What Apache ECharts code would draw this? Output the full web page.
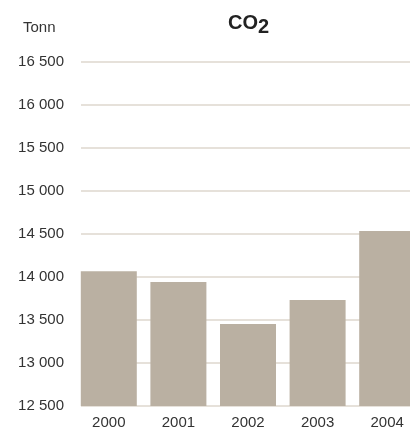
<!DOCTYPE html>
<html>
<head>
<meta charset="utf-8">
<script src="https://cdn.jsdelivr.net/npm/echarts@6/dist/echarts.min.js"></script>
<style>
html,body{margin:0;padding:0;background:#fff;}
#main{width:410px;height:430px;}
</style>
</head>
<body>
<div id="main"></div>
<script>
var years = ['2000', '2001', '2002', '2003', '2004'];
var co2Values = [14067, 13941, 13453, 13734, 14535];
var yMin = 12500, yMax = 16500, yStep = 500;

var chart = echarts.init(document.getElementById('main'));
var font = 'Liberation Sans';
var option = {
	animation: false,
	textStyle: { fontFamily: font },
	title: [
		{
			text: 'Tonn',
			left: 23, top: 20, padding: 0,
			textStyle: { fontSize: 15, fontWeight: 'normal', color: '#333', fontFamily: font }
		},
		{
			text: '{a|CO}{b|2}',
			left: 228, top: 13, padding: 0,
			textStyle: {
				rich: {
					a: { fontSize: 20, fontWeight: 'bold', color: '#222', fontFamily: font, verticalAlign: 'top', lineHeight: 20 },
					b: { fontSize: 20, fontWeight: 'bold', color: '#222', fontFamily: font, padding: [9, 0, 0, 0], lineHeight: 20 }
				}
			}
		}
	],
	// grid 0: gridlines + y labels, grid 1: bars
	grid: [
		{ left: 81, width: 329, top: 62, bottom: 24, outerBoundsMode: 'none' },
		{ left: 74, width: 348, top: 62, bottom: 24, outerBoundsMode: 'none' }
	],
	xAxis: [
		{ gridIndex: 0, type: 'value', show: false, min: 0, max: 1 },
		{
			gridIndex: 1,
			type: 'category',
			data: years,
			axisLine: { show: false },
			axisTick: { show: false },
			axisLabel: { color: '#333', fontSize: 15, margin: 9 }
		}
	],
	yAxis: [
		{
			gridIndex: 0,
			type: 'value',
			min: yMin, max: yMax, interval: yStep,
			axisLine: { show: false },
			axisTick: { show: false },
			splitLine: { lineStyle: { color: '#e6e1da', width: 2 } },
			axisLabel: {
				color: '#333', fontSize: 15, margin: 17,
				formatter: function (v) { return String(v).replace(/\B(?=(\d{3})+(?!\d))/g, ' '); }
			}
		},
		{
			gridIndex: 1,
			type: 'value',
			min: yMin, max: yMax, interval: yStep,
			show: false,
			splitLine: { show: false }
		}
	],
	series: [{
		type: 'bar',
		xAxisIndex: 1,
		yAxisIndex: 1,
		data: co2Values,
		barWidth: 56,
		itemStyle: { color: '#bab0a2' }
	}]
};
chart.setOption(option);
</script>
</body>
</html>
